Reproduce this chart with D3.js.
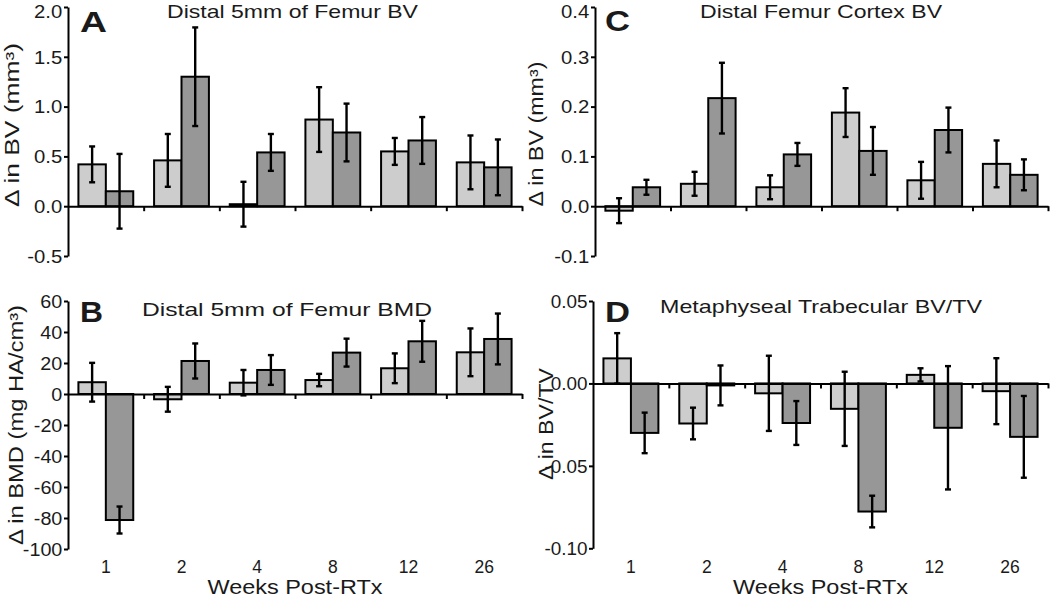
<!DOCTYPE html>
<html><head><meta charset="utf-8">
<script src="https://cdn.jsdelivr.net/npm/d3@7"></script>
<style>body{margin:0;background:#fff} svg{display:block}</style>
</head><body>
<svg id="chart" width="1050" height="598"></svg>
<script>
// ---------- data ----------
const weeks = ["1", "2", "4", "8", "12", "26"];
const series = ["light", "dark"];

// A: Distal 5mm of Femur BV (mm^3)
const aLight    = [0.42, 0.46, 0.02, 0.87, 0.55, 0.44];
const aLightErr = [0.18, 0.265, 0.225, 0.325, 0.135, 0.27];
const aDark     = [0.15, 1.30, 0.54, 0.74, 0.66, 0.39];
const aDarkErr  = [0.375, 0.495, 0.185, 0.29, 0.235, 0.28];
const aTicks    = [-0.5, 0.0, 0.5, 1.0, 1.5, 2.0];

// B: Distal 5mm of Femur BMD (mg HA/cm^3)
const bLight    = [7.6, -3.4, 7.3, 9.0, 16.6, 26.9];
const bLightErr = [12.5, 8.0, 8.2, 4.0, 9.6, 15.4];
const bDark     = [-81.3, 21.3, 15.5, 26.7, 34.0, 35.5];
const bDarkErr  = [8.7, 11.3, 9.6, 9.0, 13.2, 16.4];
const bTicks    = [-100, -80, -60, -40, -20, 0, 20, 40, 60];

// C: Distal Femur Cortex BV (mm^3)
const cLight    = [-0.009, 0.045, 0.038, 0.188, 0.052, 0.085];
const cLightErr = [0.025, 0.024, 0.024, 0.049, 0.037, 0.047];
const cDark     = [0.038, 0.217, 0.104, 0.111, 0.153, 0.063];
const cDarkErr  = [0.015, 0.071, 0.023, 0.048, 0.045, 0.031];
const cTicks    = [-0.1, 0.0, 0.1, 0.2, 0.3, 0.4];

// D: Metaphyseal Trabecular BV/TV
const dLight    = [0.0152, -0.0243, -0.006, -0.0154, 0.0052, -0.0047];
const dLightErr = [0.0153, 0.0096, 0.0228, 0.0225, 0.004, 0.020];
const dDark     = [-0.030, -0.0012, -0.024, -0.0777, -0.0269, -0.0324];
const dDarkErr  = [0.0123, 0.0121, 0.0133, 0.0096, 0.0374, 0.0248];
const dTicks    = [-0.10, -0.05, 0.00, 0.05];

// ---------- drawing ----------
const FONT = "'Liberation Sans', Arial, Helvetica, sans-serif";
const TXT = "#1a1a1a";
const svg = d3.select("#chart");
const fmt1 = v => d3.format(".1f")(v).replace("\u2212", "-");
const fmt0 = v => d3.format("d")(v).replace("\u2212", "-");
const fmt2 = v => d3.format(".2f")(v).replace("\u2212", "-");

function drawPanel(p) {
  const g = svg.append("g");
  const x = d3.scaleBand().domain(weeks).range([p.x0, p.x1]).padding(0);
  const xs = d3.scaleBand().domain(series).range([0, x.bandwidth()]).paddingInner(0).paddingOuter(0.38);
  const y = d3.scaleLinear().domain(p.domain).range(p.range);
  const data = weeks.flatMap((w, i) => [
    {w, s: "light", v: p.light[i], e: p.lightErr[i]},
    {w, s: "dark",  v: p.dark[i],  e: p.darkErr[i]}
  ]);

  g.selectAll("rect.bar").data(data).join("rect").attr("class", "bar")
    .attr("x", d => x(d.w) + xs(d.s))
    .attr("width", xs.bandwidth())
    .attr("y", d => y(Math.max(0, d.v)))
    .attr("height", d => Math.abs(y(d.v) - y(0)))
    .attr("fill", d => d.s === "light" ? "#cdcdcd" : "#979797")
    .attr("stroke", "#000").attr("stroke-width", 2);

  const eg = g.selectAll("g.err").data(data).join("g").attr("class", "err")
    .attr("stroke", "#000").attr("stroke-width", 2.4);
  const cx = d => x(d.w) + xs(d.s) + xs.bandwidth() / 2;
  eg.append("line").attr("x1", cx).attr("x2", cx)
    .attr("y1", d => y(d.v + d.e)).attr("y2", d => y(d.v - d.e));
  eg.append("line").attr("x1", d => cx(d) - 3).attr("x2", d => cx(d) + 3)
    .attr("y1", d => y(d.v + d.e)).attr("y2", d => y(d.v + d.e));
  eg.append("line").attr("x1", d => cx(d) - 3).attr("x2", d => cx(d) + 3)
    .attr("y1", d => y(d.v - d.e)).attr("y2", d => y(d.v - d.e));

  // y axis
  const top = d3.max(p.ticks);
  const ya = g.append("g").attr("transform", `translate(${p.x0},0)`)
    .call(d3.axisLeft(y).tickValues(p.ticks).tickFormat(p.fmt).tickSize(4).tickSizeOuter(0).tickPadding(1));
  ya.select(".domain").attr("stroke", "#000").attr("stroke-width", 2);
  ya.selectAll(".tick line").attr("stroke", "#000").attr("stroke-width", 2);
  ya.selectAll(".tick text").attr("font-family", FONT).attr("font-size", 17.5)
    .attr("fill", TXT).attr("dy", d => (y(top) < 12 && d === top) ? "0.62em" : "0.36em")
    .attr("transform", `scale(${p.tsx},1)`);

  // zero line with category boundary ticks
  const xb = d3.scaleLinear().domain([0, weeks.length]).range([p.x0, p.x1]);
  const xa = g.append("g").attr("transform", `translate(0,${y(0)})`)
    .call(d3.axisBottom(xb).tickValues(d3.range(1, weeks.length + 1)).tickSize(5).tickSizeOuter(0).tickFormat(""));
  xa.select(".domain").attr("stroke", "#000").attr("stroke-width", 2);
  xa.selectAll(".tick line").attr("stroke", "#000").attr("stroke-width", 2);

  if (p.showX) {
    const xl = g.append("g").attr("transform", `translate(0,558)`)
      .call(d3.axisBottom(x).tickSize(0).tickPadding(3));
    xl.select(".domain").remove();
    xl.selectAll(".tick text").attr("font-family", FONT).attr("font-size", 17.5).attr("fill", TXT);
    g.append("text").attr("x", (p.x0 + p.x1) / 2).attr("y", 594)
      .attr("text-anchor", "middle").attr("font-family", FONT).attr("font-size", 19.5)
      .attr("fill", TXT).attr("textLength", 175).attr("lengthAdjust", "spacingAndGlyphs")
      .text("Weeks Post-RTx");
  }

  // title
  g.append("text").attr("x", p.title.x).attr("y", p.title.y)
    .attr("font-family", FONT).attr("font-size", 19).attr("fill", TXT)
    .attr("textLength", p.title.len).attr("lengthAdjust", "spacingAndGlyphs")
    .text(p.title.text);
  // panel letter
  g.append("text").attr("x", p.letter.x).attr("y", p.letter.y)
    .attr("font-family", FONT).attr("font-size", 29).attr("font-weight", "bold").attr("fill", TXT)
    .attr("textLength", p.letter.len).attr("lengthAdjust", "spacingAndGlyphs")
    .text(p.letter.text);
  // y label
  g.append("text").attr("transform", `translate(${p.ylab.x},${p.ylab.cy}) rotate(-90)`)
    .attr("text-anchor", "middle").attr("font-family", FONT).attr("font-size", 19.5).attr("fill", TXT)
    .attr("textLength", p.ylab.len).attr("lengthAdjust", "spacingAndGlyphs")
    .text(p.ylab.text);
}

drawPanel({
  x0: 68, x1: 522, domain: [-0.5, 2.0], range: [256, 7], ticks: aTicks, fmt: fmt1, tsx: 1.16,
  light: aLight, lightErr: aLightErr, dark: aDark, darkErr: aDarkErr, showX: false,
  title: {text: "Distal 5mm of Femur BV", x: 167, y: 18, len: 251},
  letter: {text: "A", x: 80, y: 32, len: 27},
  ylab: {text: "\u0394 in BV (mm\u00B3)", x: 19, cy: 125, len: 164}
});
drawPanel({
  x0: 68, x1: 522, domain: [-100, 60], range: [549, 301], ticks: bTicks, fmt: fmt0, tsx: 1.13,
  light: bLight, lightErr: bLightErr, dark: bDark, darkErr: bDarkErr, showX: true,
  title: {text: "Distal 5mm of Femur BMD", x: 142, y: 316, len: 290},
  letter: {text: "B", x: 80, y: 322, len: 23},
  ylab: {text: "\u0394 in BMD (mg HA/cm\u00B3)", x: 23, cy: 425, len: 240}
});
drawPanel({
  x0: 595, x1: 1048, domain: [-0.1, 0.4], range: [256, 7], ticks: cTicks, fmt: fmt1, tsx: 1.16,
  light: cLight, lightErr: cLightErr, dark: cDark, darkErr: cDarkErr, showX: false,
  title: {text: "Distal Femur Cortex BV", x: 700, y: 18, len: 242},
  letter: {text: "C", x: 605, y: 30.5, len: 25},
  ylab: {text: "\u0394 in BV (mm\u00B3)", x: 543, cy: 134, len: 145}
});
drawPanel({
  x0: 593, x1: 1048, domain: [-0.10, 0.05], range: [548.3, 301], ticks: dTicks, fmt: fmt2, tsx: 1.08,
  light: dLight, lightErr: dLightErr, dark: dDark, darkErr: dDarkErr, showX: true,
  title: {text: "Metaphyseal Trabecular BV/TV", x: 660, y: 313, len: 322},
  letter: {text: "D", x: 605, y: 322, len: 25},
  ylab: {text: "\u0394 in BV/TV", x: 553, cy: 424, len: 112}
});
</script>
</body></html>
